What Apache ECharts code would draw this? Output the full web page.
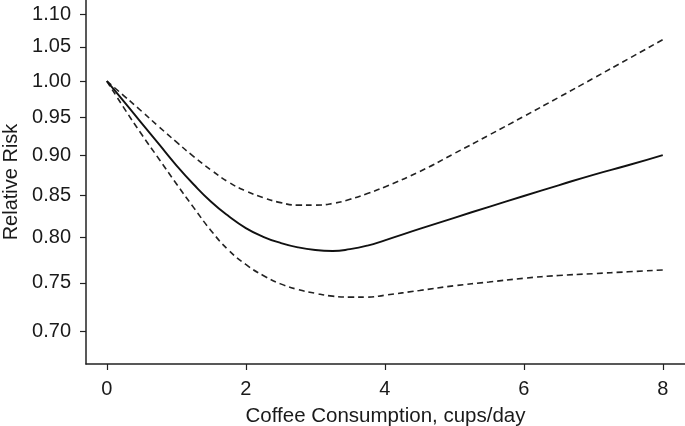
<!DOCTYPE html>
<html>
<head>
<meta charset="utf-8">
<script src="https://cdn.jsdelivr.net/npm/echarts@6/dist/echarts.min.js"></script>
<style>
html,body{margin:0;padding:0;background:#fff;}
#c{width:685px;height:426px;}
</style>
</head>
<body>
<div id="c"></div>
<script>
const cups = [0, 0.25, 0.5, 0.75, 1, 1.25, 1.5, 1.75, 2, 2.25, 2.5, 2.75, 3, 3.25, 3.5, 3.75, 4, 4.5, 5, 5.5, 6, 6.5, 7, 7.5, 8];
const rrEstimate = [1.000, 0.971, 0.942, 0.914, 0.887, 0.863, 0.842, 0.825, 0.811, 0.801, 0.794, 0.789, 0.786, 0.785, 0.787, 0.791, 0.797, 0.810, 0.823, 0.836, 0.849, 0.862, 0.875, 0.887, 0.900];
const rrUpper = [1.000, 0.979, 0.958, 0.937, 0.917, 0.898, 0.881, 0.866, 0.855, 0.847, 0.841, 0.838, 0.838, 0.840, 0.845, 0.852, 0.860, 0.879, 0.902, 0.926, 0.951, 0.977, 1.004, 1.032, 1.061];
const rrLower = [1.000, 0.962, 0.927, 0.895, 0.864, 0.835, 0.808, 0.786, 0.770, 0.758, 0.749, 0.743, 0.739, 0.736, 0.735, 0.735, 0.737, 0.742, 0.747, 0.751, 0.755, 0.758, 0.760, 0.762, 0.764];
const yTicks = [0.70, 0.75, 0.80, 0.85, 0.90, 0.95, 1.00, 1.05, 1.10];
const xTicks = [0, 2, 4, 6, 8];

const toPts = arr => cups.map((x, i) => [x, Math.log(arr[i])]);
const font = '"Liberation Sans", Arial, Helvetica, sans-serif';
const txt = '#1a1a1a';

const chart = echarts.init(document.getElementById('c'), null, {renderer: 'canvas'});
chart.setOption({
  animation: false,
  backgroundColor: '#ffffff',
  grid: {left: 86, right: 0, top: 0, bottom: 62, containLabel: false, outerBoundsMode: 'none'},
  xAxis: {
    type: 'value',
    min: -0.3,
    max: 8.32,
    name: 'Coffee Consumption, cups/day',
    nameLocation: 'middle',
    nameGap: 42,
    nameTextStyle: {fontFamily: font, fontSize: 20.5, color: txt},
    axisLine: {show: true, onZero: false, lineStyle: {color: '#222', width: 1.5}},
    axisTick: {show: true, customValues: xTicks, length: 6, lineStyle: {color: '#222', width: 1.2}},
    axisLabel: {customValues: xTicks, margin: 15, fontFamily: font, fontSize: 20, color: txt},
    splitLine: {show: false}
  },
  yAxis: {
    type: 'value',
    min: -0.40326,
    max: 0.1157,
    name: 'Relative Risk',
    nameLocation: 'middle',
    nameGap: 65,
    nameRotate: 90,
    nameTextStyle: {fontFamily: font, fontSize: 20, color: txt},
    axisLine: {show: true, onZero: false, lineStyle: {color: '#222', width: 1.5}},
    axisTick: {show: true, customValues: yTicks.map(v => Math.log(v)), length: 6, lineStyle: {color: '#222', width: 1.2}},
    axisLabel: {
      customValues: yTicks.map(v => Math.log(v)),
      margin: 15,
      fontFamily: font, fontSize: 20, color: txt,
      formatter: v => Math.exp(v).toFixed(2)
    },
    splitLine: {show: false}
  },
  series: [
    {type: 'line', data: toPts(rrUpper), smooth: true, symbol: 'none',
     lineStyle: {color: '#222', width: 1.6, type: [6, 4]}},
    {type: 'line', data: toPts(rrLower), smooth: true, symbol: 'none',
     lineStyle: {color: '#222', width: 1.6, type: [6, 4]}},
    {type: 'line', data: toPts(rrEstimate), smooth: true, symbol: 'none',
     lineStyle: {color: '#111', width: 1.9}}
  ]
});
</script>
</body>
</html>
